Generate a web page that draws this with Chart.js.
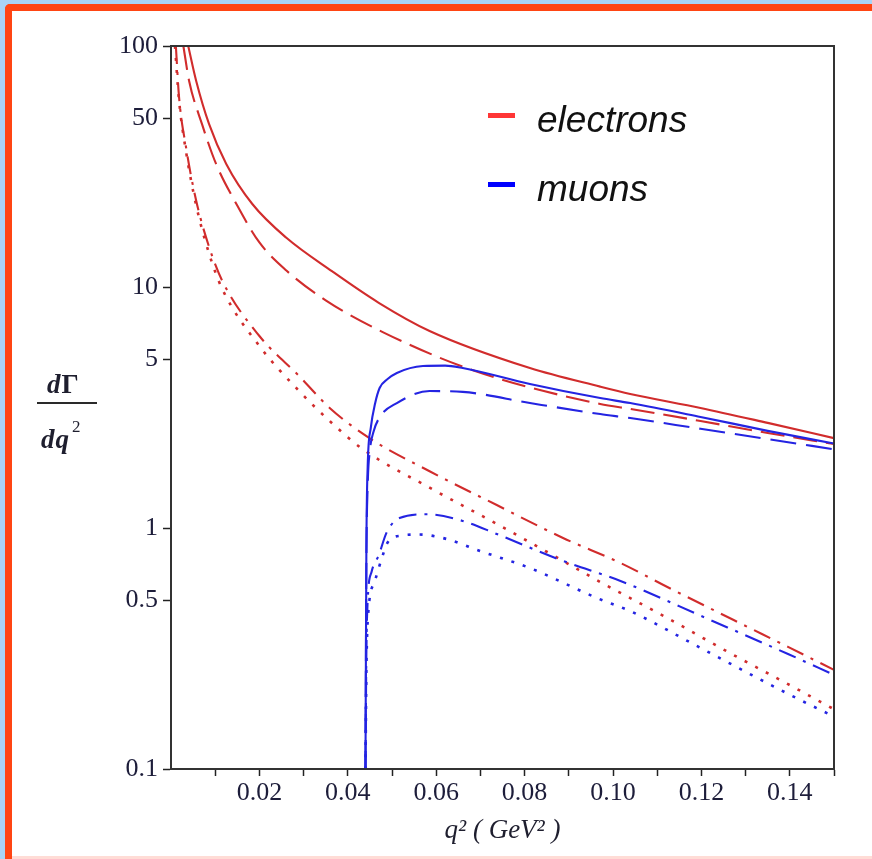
<!DOCTYPE html>
<html>
<head>
<meta charset="utf-8">
<script src="https://cdn.jsdelivr.net/npm/chart.js@4.4.1/dist/chart.umd.min.js"></script>
<style>
    html, body { margin: 0; padding: 0; }
    body { width: 872px; height: 859px; position: relative; overflow: hidden; background: #a9d3f5; }
    .frame { position: absolute; left: 5px; top: 4px; right: 0; bottom: 0; background: #fff;
             border-left: 7px solid #ff4513; border-top: 7px solid #ff4513; border-top-left-radius: 5px; }
    .bottom-strip { position: absolute; left: 12px; right: 0; bottom: 0; height: 3px; background: #ffdcd6; }
    #rate-chart { position: absolute; left: 0; top: 0; }
    .ytitle { position: absolute; font-family: 'Liberation Serif', serif; color: #1e1e2e; font-size: 27px;
              line-height: 27px; font-weight: bold; letter-spacing: 1px; }
    .ytitle i { font-style: italic; }
    .ytitle sup { font-size: 17px; font-weight: normal; position: relative; top: -6px; margin-left: 2px; }
    .bar { position: absolute; left: 37px; top: 402px; width: 60px; height: 2px; background: #2a2a2a; }
    .legend-key { position: absolute; width: 27px; height: 5px; }
    .legend-text { position: absolute; font-family: 'Liberation Sans', Arial, sans-serif; font-style: italic;
                   font-size: 37px; line-height: 37px; color: #111; }
</style>
</head>
<body>
<div class="frame"></div>
<div class="bottom-strip"></div>
<canvas id="rate-chart" width="872" height="859"></canvas>
<div class="ytitle" style="left:47px; top:371px;"><i>d</i>&Gamma;</div>
<div class="bar"></div>
<div class="ytitle" style="left:41px; top:419px;"><i>dq</i><sup>2</sup></div>
<div id="legend"></div>
<script>
// q^2 in GeV^2, dGamma/dq^2
const eSolidQ = [0.0039, 0.0057, 0.0086, 0.0125, 0.0184, 0.0261, 0.0365, 0.0470, 0.0585, 0.0812, 0.0971, 0.1039, 0.1198, 0.1350, 0.1500];
const eSolidV = [100, 71.6, 47.5, 32.4, 22.1, 16.0, 11.6, 8.6, 6.57, 4.61, 3.86, 3.60, 3.15, 2.73, 2.36];

const eDashQ = [0.0028, 0.0041, 0.0070, 0.0102, 0.0148, 0.0200, 0.0261, 0.0350, 0.0479, 0.0688, 0.0971, 0.1039, 0.1198, 0.1350, 0.1500];
const eDashV = [100, 71.6, 47.5, 32.4, 22.1, 15.3, 11.7, 8.8, 6.5, 4.48, 3.27, 3.12, 2.78, 2.48, 2.23];

const eDashDotQ = [0.0011, 0.0018, 0.0034, 0.0057, 0.0086, 0.0115, 0.0200, 0.0290, 0.0359, 0.0449, 0.0585, 0.0737, 0.0887, 0.1017, 0.1123, 0.1273, 0.1396, 0.1500];
const eDashDotV = [100, 62.0, 38.0, 22.8, 14.7, 10.7, 6.26, 4.27, 3.15, 2.36, 1.72, 1.245, 0.909, 0.716, 0.569, 0.415, 0.321, 0.258];

const eDotQ = [0.0009, 0.0018, 0.0034, 0.0057, 0.0086, 0.0115, 0.0200, 0.0290, 0.0359, 0.0433, 0.0585, 0.0737, 0.0887, 0.0971, 0.1039, 0.1123, 0.1273, 0.1396, 0.1500];
const eDotV = [100, 60.0, 36.5, 21.8, 13.8, 9.9, 5.69, 3.70, 2.78, 2.13, 1.47, 1.04, 0.730, 0.597, 0.512, 0.423, 0.297, 0.225, 0.177];

const muSolidQ = [0.0440, 0.0442, 0.0445, 0.0452, 0.0462, 0.0472, 0.0490, 0.0511, 0.0570, 0.0620, 0.0660, 0.0812, 0.0971, 0.1039, 0.1198, 0.1350, 0.1500];
const muSolidV = [0.1, 0.8, 1.8, 2.6, 3.3, 3.81, 4.15, 4.40, 4.70, 4.72, 4.61, 3.96, 3.46, 3.30, 2.89, 2.53, 2.24];

const muDashQ = [0.0440, 0.0442, 0.0445, 0.0450, 0.0458, 0.0472, 0.0511, 0.0585, 0.0660, 0.0812, 0.0971, 0.1039, 0.1198, 0.1350, 0.1500];
const muDashV = [0.1, 0.7, 1.5, 2.1, 2.5, 2.88, 3.30, 3.70, 3.67, 3.30, 2.97, 2.86, 2.58, 2.34, 2.12];

const muDashDotQ = [0.0440, 0.0442, 0.0445, 0.0454, 0.0470, 0.0488, 0.0517, 0.0579, 0.0660, 0.0737, 0.0887, 0.1017, 0.1214, 0.1396, 0.1500];
const muDashDotV = [0.1, 0.3, 0.5, 0.66, 0.77, 0.96, 1.10, 1.14, 1.07, 0.944, 0.730, 0.603, 0.420, 0.300, 0.246];

const muDotQ = [0.0440, 0.0442, 0.0445, 0.0461, 0.0477, 0.0490, 0.0520, 0.0560, 0.0624, 0.0699, 0.0812, 0.0964, 0.1039, 0.1198, 0.1396, 0.1500];
const muDotV = [0.1, 0.25, 0.41, 0.60, 0.75, 0.87, 0.93, 0.94, 0.90, 0.803, 0.682, 0.512, 0.452, 0.318, 0.205, 0.165];

const xMajorTicks = [0.02, 0.04, 0.06, 0.08, 0.10, 0.12, 0.14];
const xTickLabels = ['0.02', '0.04', '0.06', '0.08', '0.10', '0.12', '0.14'];
const xMinorTicks = [0.01, 0.03, 0.05, 0.07, 0.09, 0.11, 0.13, 0.15];
const yTickValues = [0.1, 0.5, 1, 5, 10, 50, 100];
const yTickLabels = ['0.1', '0.5', '1', '5', '10', '50', '100'];

const legendLabels = ['electrons', 'muons'];
const legendColors = ['#ff3636', '#0000ff'];

const RED = '#d12c2c';
const BLUE = '#2424e2';

function toPoints(qs, vs) {
    return qs.map((q, i) => ({ x: q, y: vs[i] }));
}

function lineSet(label, qs, vs, color, dash) {
    return {
        label,
        data: toPoints(qs, vs),
        borderColor: color,
        borderWidth: dash.length === 2 && dash[0] < 5 ? 2.6 : 2.1,
        borderDash: dash,
        borderCapStyle: 'butt',
        pointRadius: 0,
        fill: false,
        tension: 0.4,
        cubicInterpolationMode: 'monotone'
    };
}

const datasets = [
    lineSet('muons, solid', muSolidQ, muSolidV, BLUE, []),
    lineSet('muons, dashed', muDashQ, muDashV, BLUE, [26, 10]),
    lineSet('muons, dash-dot', muDashDotQ, muDashDotV, BLUE, [18, 8, 3, 8]),
    lineSet('muons, dotted', muDotQ, muDotV, BLUE, [3, 9]),
    lineSet('electrons, solid', eSolidQ, eSolidV, RED, []),
    lineSet('electrons, dashed', eDashQ, eDashV, RED, [24, 9]),
    lineSet('electrons, dash-dot', eDashDotQ, eDashDotV, RED, [18, 8, 3, 8]),
    lineSet('electrons, dotted', eDotQ, eDotV, RED, [3, 9])
];

const frameBox = {
    id: 'frameBox',
    afterDatasetsDraw(chart) {
        const { ctx, chartArea: a } = chart;
        ctx.save();
        ctx.strokeStyle = '#333';
        ctx.lineWidth = 2;
        ctx.strokeRect(a.left, a.top, a.right - a.left, a.bottom - a.top);
        ctx.restore();
    }
};

const tickFont = { family: 'Liberation Serif', size: 26 };

new Chart(document.getElementById('rate-chart'), {
    type: 'line',
    data: { datasets },
    options: {
        responsive: false,
        animation: false,
        events: [],
        layout: { padding: { left: 0, top: 46, right: 38, bottom: 0 } },
        plugins: { legend: { display: false }, tooltip: { enabled: false } },
        scales: {
            x: {
                type: 'linear',
                min: 0,
                max: 0.15,
                afterBuildTicks: scale => {
                    scale.ticks = [...xMajorTicks, ...xMinorTicks].sort((a, b) => a - b).map(v => ({ value: v }));
                },
                afterFit: scale => { scale.height = 90; },
                ticks: {
                    autoSkip: false,
                    maxRotation: 0,
                    color: '#1d1d3a',
                    font: tickFont,
                    padding: 2,
                    callback: value => {
                        const i = xMajorTicks.findIndex(t => Math.abs(t - value) < 1e-9);
                        return i >= 0 ? xTickLabels[i] : '';
                    }
                },
                grid: { drawOnChartArea: false, drawTicks: true, tickLength: 7, color: '#222', tickWidth: 1.5 },
                border: { color: '#333', width: 2 },
                title: {
                    display: true,
                    text: 'q² ( GeV² )',
                    color: '#1e1e2e',
                    font: { family: 'Liberation Serif', style: 'italic', size: 27 },
                    padding: { top: 0, bottom: 12 }
                }
            },
            y: {
                type: 'logarithmic',
                min: 0.1,
                max: 100,
                afterBuildTicks: scale => {
                    scale.ticks = yTickValues.map(v => ({ value: v }));
                },
                afterFit: scale => { scale.width = 171; },
                ticks: {
                    autoSkip: false,
                    color: '#1d1d3a',
                    font: tickFont,
                    padding: 5,
                    callback: value => {
                        const i = yTickValues.findIndex(t => Math.abs(t - value) < 1e-9);
                        return i >= 0 ? yTickLabels[i] : '';
                    }
                },
                grid: { drawOnChartArea: false, drawTicks: true, tickLength: 8, color: '#222', tickWidth: 1.5 },
                border: { color: '#333', width: 2 }
            }
        }
    },
    plugins: [frameBox]
});

const legend = document.getElementById('legend');
legendLabels.forEach((label, i) => {
    const top = 113 + i * 69;
    legend.insertAdjacentHTML('beforeend',
        `<div class="legend-key" style="left:488px; top:${top}px; background:${legendColors[i]}"></div>` +
        `<div class="legend-text" style="left:537px; top:${top - 12}px">${label}</div>`);
});
</script>
</body>
</html>
